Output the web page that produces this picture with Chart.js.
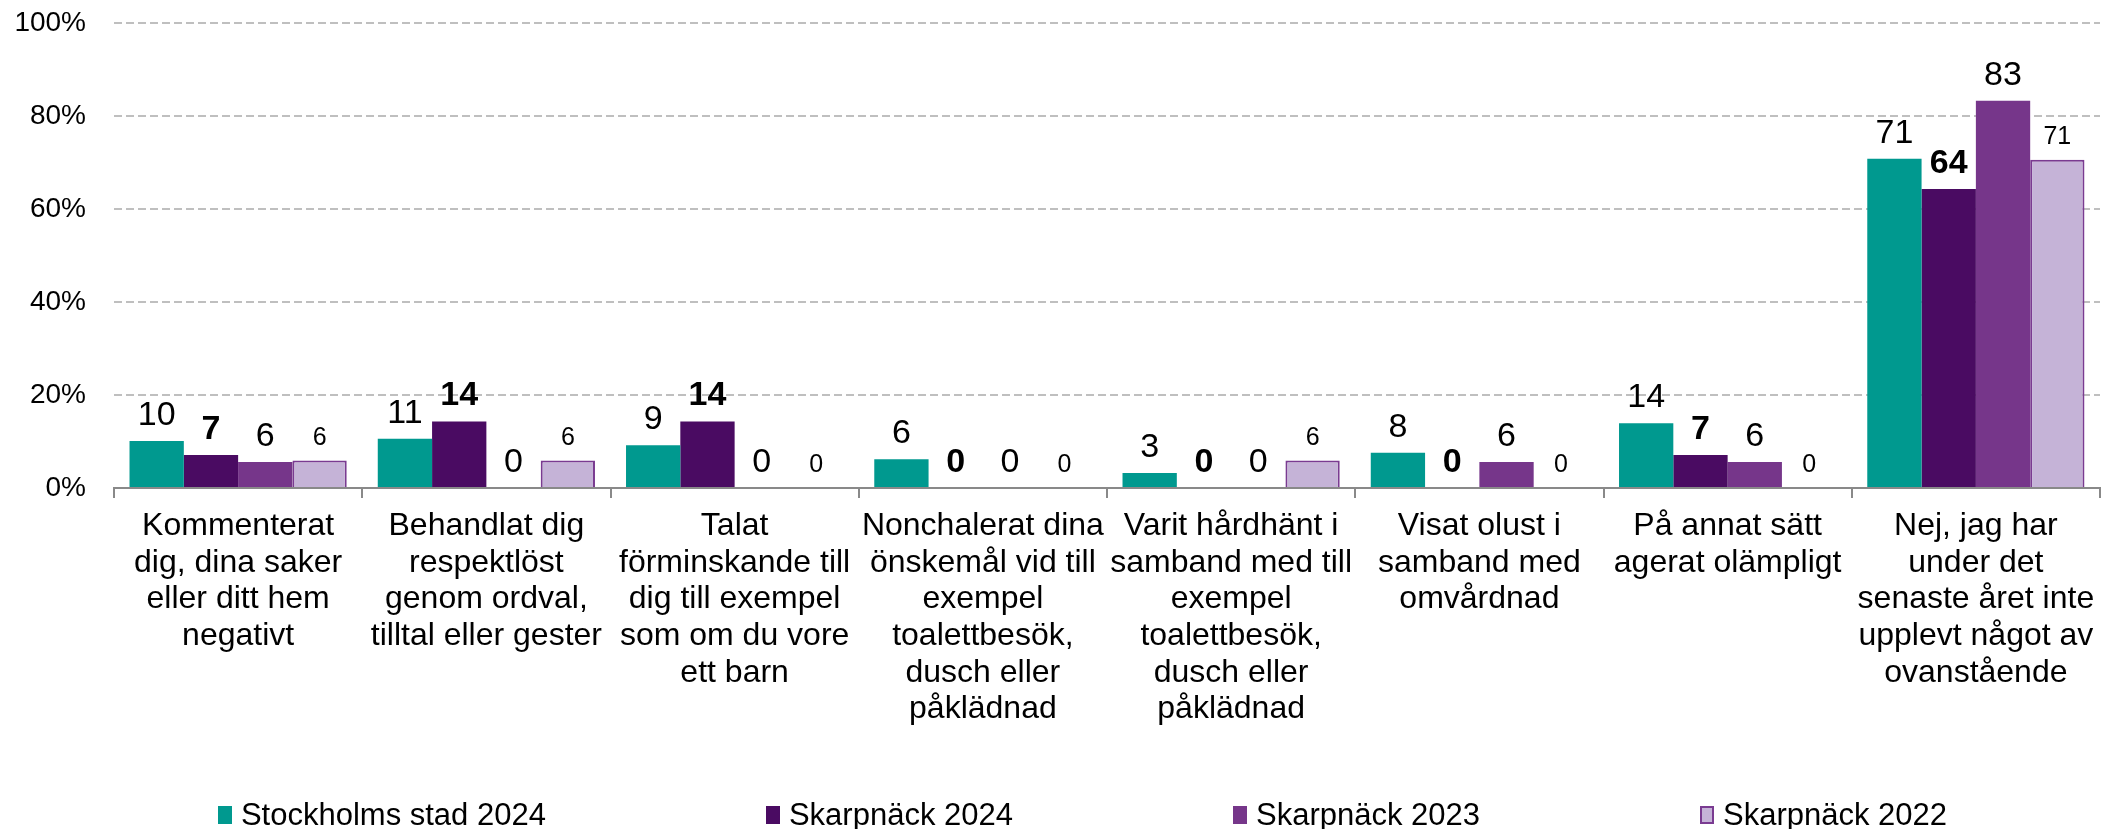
<!DOCTYPE html>
<html>
<head>
<meta charset="utf-8">
<script src="https://cdn.jsdelivr.net/npm/chart.js@4"></script>
<style>
  html, body { margin: 0; padding: 0; background: #fff; }
  #wrap { position: relative; width: 2113px; height: 829px; }
  #legend {
    position: absolute; left: 0; top: 797px; width: 2113px;
    display: flex; justify-content: center; gap: 220px;
    font-family: "Liberation Sans", Arial, sans-serif; font-size: 31px; color: #000;
    box-sizing: border-box; padding-left: 52px;
  }
  .item { display: flex; align-items: center; white-space: nowrap; }
  .box { width: 14px; height: 18px; margin-right: 9px; box-sizing: border-box; }
</style>
</head>
<body>
<div id="wrap">
  <canvas id="chart" width="2113" height="829"></canvas>
  <div id="legend"></div>
</div>
<script>
var categories = [
    ["Kommenterat", "dig, dina saker", "eller ditt hem", "negativt"],
    ["Behandlat dig", "respektlöst", "genom ordval,", "tilltal eller gester"],
    ["Talat", "förminskande till", "dig till exempel", "som om du vore", "ett barn"],
    ["Nonchalerat dina", "önskemål vid till", "exempel", "toalettbesök,", "dusch eller", "påklädnad"],
    ["Varit hårdhänt i", "samband med till", "exempel", "toalettbesök,", "dusch eller", "påklädnad"],
    ["Visat olust i", "samband med", "omvårdnad"],
    ["På annat sätt", "agerat olämpligt"],
    ["Nej, jag har", "under det", "senaste året inte", "upplevt något av", "ovanstående"]
];
var seriesNames = ["Stockholms stad 2024", "Skarpnäck 2024", "Skarpnäck 2023", "Skarpnäck 2022"];
var stockholm2024 = [10.1, 10.6, 9.2, 6.2, 3.2, 7.6, 13.9, 70.8];
var skarpnack2024 = [7.1, 14.3, 14.3, 0, 0, 0, 7.1, 64.3];
var skarpnack2023 = [5.6, 0, 0, 0, 0, 5.6, 5.6, 83.3];
var skarpnack2022 = [5.9, 5.9, 0, 0, 5.9, 0, 0, 70.6];
var yTicks = [0, 20, 40, 60, 80, 100];

var FONT = '"Liberation Sans", Arial, sans-serif';
var fills = ["#00998F", "#4A0B62", "#76368A", "#C5B3D7"];
var borders = ["#00998F", "#4A0B62", "#76368A", "#7A3B91"];
var labelFonts = [
    "34px " + FONT,
    "bold 34px " + FONT,
    "34px " + FONT,
    "25px " + FONT
];

// value labels above the bars
const valueLabels = {
    id: 'valueLabels',
    afterDatasetsDraw(chart) {
        const ctx = chart.ctx;
        chart.data.datasets.forEach(function(ds, i) {
            const meta = chart.getDatasetMeta(i);
            ctx.save();
            ctx.font = labelFonts[i];
            ctx.fillStyle = "#000";
            ctx.textAlign = "center";
            ctx.textBaseline = "alphabetic";
            meta.data.forEach(function(bar, j) {
                ctx.fillText(String(Math.round(ds.data[j])), bar.x, bar.y - 16);
            });
            ctx.restore();
        });
    }
};

var allData = [stockholm2024, skarpnack2024, skarpnack2023, skarpnack2022];
var datasets = allData.map(function(d, i) {
    return {
        label: seriesNames[i],
        data: d,
        backgroundColor: fills[i],
        borderColor: borders[i],
        borderWidth: i == 3 ? 2 : 0,
        categoryPercentage: 0.875,
        barPercentage: 1.0
    };
});

new Chart(document.getElementById("chart"), {
    type: "bar",
    data: {labels: categories, datasets: datasets},
    options: {
        responsive: false,
        animation: false,
        layout: {padding: {left: 14, right: 13, top: 0, bottom: 91}},
        plugins: {legend: {display: false}, tooltip: {enabled: false}},
        scales: {
            x: {
                grid: {drawOnChartArea: false, drawTicks: true, tickLength: 10, color: "#898989", lineWidth: 2, offset: true},
                border: {display: true, color: "#898989", width: 2},
                ticks: {
                    color: "#000", padding: 10, autoSkip: false, maxRotation: 0, minRotation: 0,
                    font: {family: FONT, size: 32, lineHeight: 1.146}
                }
            },
            y: {
                min: 0, max: 100,
                afterBuildTicks: function(axis) { axis.ticks = yTicks.map(function(v) { return {value: v}; }); },
                afterFit: function(axis) { axis.width = 100; axis.paddingTop = 23; axis.paddingBottom = 0; },
                grid: {color: "#BFBFBF", lineWidth: 2, drawTicks: false},
                border: {display: false, dash: [8, 4]},
                ticks: {
                    color: "#000", padding: 28,
                    font: {family: FONT, size: 28},
                    callback: function(v) { return v + "%"; }
                }
            }
        }
    },
    plugins: [valueLabels]
});

// legend
var legend = document.getElementById("legend");
seriesNames.forEach(function(name, i) {
    var item = document.createElement("div");
    item.className = "item";
    var box = document.createElement("div");
    box.className = "box";
    box.style.background = fills[i];
    if (i == 3) box.style.border = "2px solid " + borders[i];
    item.appendChild(box);
    var txt = document.createElement("span");
    txt.textContent = name;
    item.appendChild(txt);
    legend.appendChild(item);
});
</script>
</body>
</html>
